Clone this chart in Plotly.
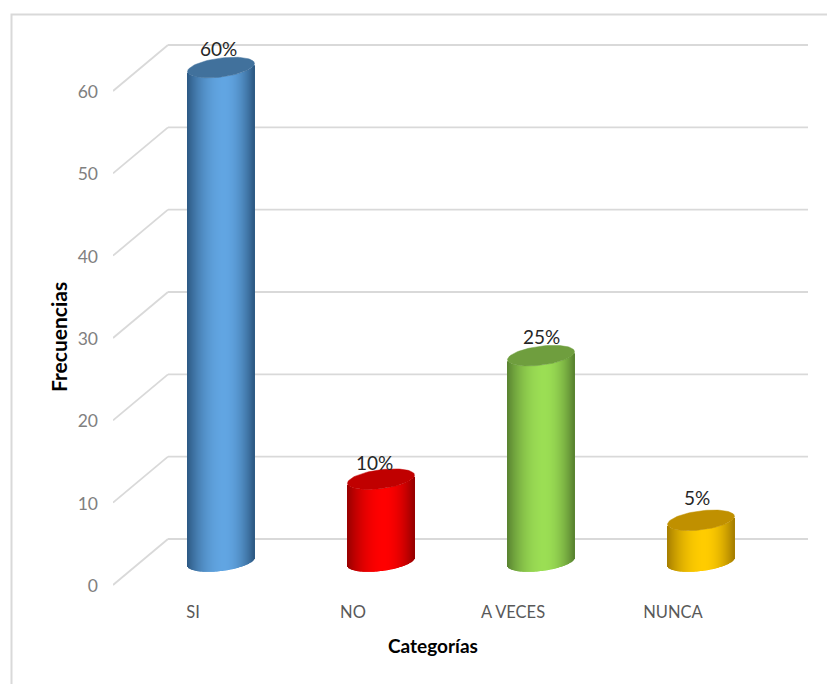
import math
import plotly.graph_objects as go

categories = ["SI", "NO", "A VECES", "NUNCA"]
values = [60, 10, 25, 5]
labels = ["60%", "10%", "25%", "5%"]
y_ticks = [0, 10, 20, 30, 40, 50, 60]

centre_colors = [(97, 165, 226), (255, 0, 0), (155, 222, 84), (255, 204, 0)]
edge_colors = [(44, 88, 130), (150, 0, 0), (88, 130, 48), (165, 125, 0)]
top_colors = ["#41719C", "#C00000", "#6F9E3E", "#C09000"]
label_dx = [-3, -7, 0, -4]
label_dy = [19, 17, 19, 23]

W, H = 827, 684
L, R, T, B = 113, 808, 30, 598
PX_PER_UNIT = 8.233
PX_PER_CAT = 160.0
Y0_PX = 585
CX0_PX = 221

x_range = [(L - CX0_PX) / PX_PER_CAT, (R - CX0_PX) / PX_PER_CAT]
y_range = [(Y0_PX - B) / PX_PER_UNIT, (Y0_PX - T) / PX_PER_UNIT]

half_w = 33.5 / PX_PER_CAT
depth_x = 55 / PX_PER_CAT
depth_y = 46 / PX_PER_UNIT
floor_y = 23.5 / PX_PER_UNIT
minor = 9.5 / PX_PER_UNIT
tilt = 4 / PX_PER_UNIT
tick_shift = 28 / PX_PER_CAT
n_strips = 67


def mix(c1, c2, f):
    return "rgb(%d,%d,%d)" % tuple(round(a + (b - a) * f) for a, b in zip(c1, c2))


def px(p):
    return (p - L) / (R - L)


def py(p):
    return (B - p) / (B - T)


fig = go.Figure()

# back wall + side wall grid lines, beneath the cylinders
grid_shapes = []
grid_line = dict(color="#D9D9D9", width=1.8)
for v in y_ticks:
    grid_shapes.append(dict(type="line", xref="x", yref="y", layer="below", line=grid_line,
                            x0=x_range[0], y0=v, x1=x_range[0] + depth_x, y1=v + depth_y))
    grid_shapes.append(dict(type="line", xref="x", yref="y", layer="below", line=grid_line,
                            x0=x_range[0] + depth_x, y0=v + depth_y, x1=x_range[1], y1=v + depth_y))

# cylinders
for i, (cat, val) in enumerate(zip(categories, values)):
    xs, bases, cols, widths = [], [], [], []
    for k in range(n_strips):
        u = -1 + (2 * k + 1) / n_strips
        xs.append(i + u * half_w)
        bases.append(floor_y + tilt * u - minor * math.sqrt(max(0, 1 - u * u)))
        pos = (u + 1) / 2
        d = abs(pos - 0.55) / (0.55 if pos < 0.55 else 0.45)
        cols.append(mix(centre_colors[i], edge_colors[i], d ** 2.0))
        widths.append(1.4 * half_w * 2 / n_strips)
    fig.add_trace(go.Bar(x=xs, y=[val] * n_strips, base=bases, width=widths,
                         marker=dict(color=cols, line=dict(width=0)),
                         name=cat, hoverinfo="skip", showlegend=False))
    ex, ey = [], []
    for a in range(0, 361, 4):
        c, s = math.cos(math.radians(a)), math.sin(math.radians(a))
        ex.append(i + half_w * c)
        ey.append(floor_y + val + tilt * c + minor * s)
    fig.add_trace(go.Scatter(x=ex, y=ey, mode="lines", fill="toself", fillcolor=top_colors[i],
                             line=dict(color=top_colors[i], width=0.5),
                             hoverinfo="skip", showlegend=False))

annotations = []
for i, (val, lab) in enumerate(zip(values, labels)):
    annotations.append(dict(x=i, y=val + floor_y, text=lab, showarrow=False,
                            xshift=label_dx[i], yshift=label_dy[i],
                            font=dict(family="Lato", size=19, color="#262626")))
annotations.append(dict(xref="paper", yref="paper", x=px(433), y=py(646), text="<b>Categorías</b>",
                        xanchor="center", yanchor="middle",
                        showarrow=False, font=dict(family="Lato", size=19, color="#000000")))
annotations.append(dict(xref="paper", yref="paper", x=px(58), y=py(337), text="<b>Frecuencias</b>",
                        xanchor="center", yanchor="middle",
                        textangle=-90, showarrow=False,
                        font=dict(family="Lato", size=21, color="#000000")))

fig.update_layout(
    width=W, height=H,
    margin=dict(l=L, r=W - R, t=T, b=H - B, pad=0),
    autosize=False,
    paper_bgcolor="white", plot_bgcolor="white",
    barmode="overlay",
    showlegend=False,
    annotations=annotations,
    shapes=grid_shapes + [dict(type="path", xref="paper", yref="paper",
                               path=f"M {px(11.5)} {py(684)} L {px(11.5)} {py(14.5)} L {px(827)} {py(14.5)}",
                               line=dict(color="#D9D9D9", width=2), layer="below")],
    xaxis=dict(range=x_range, showgrid=False, zeroline=False, showline=False, ticks="",
               tickmode="array", tickvals=[i - tick_shift for i in range(len(categories))],
               ticktext=categories, tickangle=0, ticklabelstandoff=2,
               tickfont=dict(family="Lato", size=16.5, color="#595959")),
    yaxis=dict(range=y_range, showgrid=False, zeroline=False, showline=False, ticks="",
               tickmode="array", tickvals=y_ticks, ticktext=[str(v) for v in y_ticks],
               ticklabelstandoff=14, ticklabelshift=1,
               tickfont=dict(family="Lato", size=17.5, color="#808080")),
)

fig.write_html("out.html", config={"displayModeBar": False},
               post_script="document.body.style.margin='0';document.body.style.overflow='hidden';")
